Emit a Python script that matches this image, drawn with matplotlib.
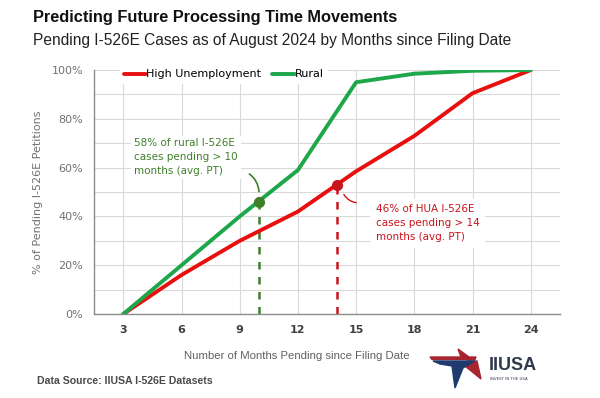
"""Pending I-526E cases by months since filing: HUA vs rural."""

import matplotlib
matplotlib.use("Agg")
import matplotlib.pyplot as plt
import matplotlib.patches as mpatches
from matplotlib.ticker import FuncFormatter, MultipleLocator

months = [3, 6, 9, 12, 15, 18, 21, 24]
high_unemployment = [0.0, 0.16, 0.30, 0.42, 0.585, 0.73, 0.905, 1.0]
rural = [0.0, 0.20, 0.40, 0.59, 0.95, 0.985, 0.997, 1.0]

rural_mark = (10, 0.46)
hua_mark = (14, 0.53)

RED = "#E8100F"
GREEN = "#1EA64B"
DKGREEN = "#3F7F2A"
DKRED = "#C8141C"
GRID = "#D9D9D9"
HEAD = "Liberation Sans"

fig = plt.figure(figsize=(6, 3.98), dpi=100)
ax = fig.add_axes([0.157, 0.211, 0.776, 0.613])

ax.plot(months, high_unemployment, color=RED, lw=2.8, label="High Unemployment",
        solid_capstyle="round", zorder=3)
ax.plot(months, rural, color=GREEN, lw=2.8, label="Rural",
        solid_capstyle="round", zorder=3)

# markers with dashed drops
ax.plot([rural_mark[0]] * 2, [0, rural_mark[1]], ls=(0, (3, 3)), color=DKGREEN, lw=1.8, zorder=2)
ax.plot([hua_mark[0]] * 2, [0, hua_mark[1]], ls=(0, (3, 3)), color=DKRED, lw=1.8, zorder=2)
ax.plot(*rural_mark, "o", color=DKGREEN, ms=7, zorder=4)
ax.plot(*hua_mark, "o", color=DKRED, ms=7, zorder=4)

ax.text(3.56, 0.72, "58% of rural I-526E\ncases pending > 10\nmonths (avg. PT)",
        color=DKGREEN, fontsize=7.5, va="top", ha="left", linespacing=1.5,
        bbox=dict(facecolor="white", edgecolor="none", pad=2), zorder=5)
ax.annotate("", xy=(10.0, 0.49), xytext=(9.38, 0.58),
            arrowprops=dict(arrowstyle="-", color=DKGREEN, lw=1.2,
                            connectionstyle="angle3,angleA=-30,angleB=90"), zorder=5)

ax.text(16.0, 0.45, "46% of HUA I-526E\ncases pending > 14\nmonths (avg. PT)",
        color=DKRED, fontsize=7.5, va="top", ha="left", linespacing=1.5,
        bbox=dict(facecolor="white", edgecolor="none", pad=4), zorder=5)
ax.annotate("", xy=(14.3, 0.50), xytext=(15.15, 0.455),
            arrowprops=dict(arrowstyle="-", color=DKRED, lw=1.0,
                            connectionstyle="arc3,rad=-0.3"), zorder=5)

ax.set_xlim(1.5, 25.5)
ax.set_ylim(0, 1.0)
ax.set_xticks(months)
ax.yaxis.set_major_locator(MultipleLocator(0.2))
ax.yaxis.set_minor_locator(MultipleLocator(0.1))
ax.yaxis.set_major_formatter(FuncFormatter(lambda v, _: f"{v:.0%}"))
ax.grid(True, which="both", axis="y", color=GRID, lw=0.8, zorder=0)
ax.grid(True, which="major", axis="x", color=GRID, lw=0.8, zorder=0)
ax.tick_params(which="both", length=0, pad=8)
ax.tick_params(axis="x", colors="#404040", labelsize=8)
ax.tick_params(axis="y", colors="#707070", labelsize=8)
for lbl in ax.get_xticklabels():
    lbl.set_fontweight("bold")
for side in ("top", "right"):
    ax.spines[side].set_visible(False)
for side in ("left", "bottom"):
    ax.spines[side].set_color("#8C8C8C")
    ax.spines[side].set_linewidth(1.0)

ax.set_ylabel("% of Pending I-526E Petitions", color="#707070", fontsize=8, labelpad=6)
ax.set_xlabel("Number of Months Pending since Filing Date", color="#606060",
              fontsize=8.2, family=HEAD)
ax.xaxis.set_label_coords(0.436, -0.15)

ax.legend(loc="upper left", bbox_to_anchor=(0.05, 1.03), ncol=2, frameon=True,
          facecolor="white", edgecolor="none", fontsize=8, handlelength=2.0,
          handletextpad=0.0, columnspacing=1.0, borderaxespad=0.2, framealpha=1)

fig.text(0.055, 0.955, "Predicting Future Processing Time Movements",
         fontsize=11.8, fontweight="bold", color="#111111", va="center", family=HEAD)
fig.text(0.055, 0.897, "Pending I-526E Cases as of August 2024 by Months since Filing Date",
         fontsize=11.2, color="#222222", va="center", family=HEAD)
fig.text(37 / 600, 1 - 381 / 398, "Data Source: IIUSA I-526E Datasets",
         fontsize=7.6, fontweight="bold", color="#4A4A4A", va="center", family=HEAD)


def px(x, y):
    return (x / 600, 1 - y / 398)


# logo
red_bar = [px(430, 357), px(476, 357), px(475, 359.5), px(432, 359.5)]
red_top = [px(458, 349), px(469, 357), px(461, 357)]
red_leg = [px(467, 361), px(477, 361), px(481, 379), px(465, 366)]
blue = [px(433, 361), px(475, 361), px(463, 368), px(455, 388), px(452, 366), px(440, 364)]
for poly, col in ((red_bar, "#A8252F"), (red_top, "#A8252F"),
                  (red_leg, "#A8252F"), (blue, "#1F3A6E")):
    fig.patches.append(mpatches.Polygon(poly, closed=True, color=col,
                                        transform=fig.transFigure))
fig.text(*px(489, 366), "IIUSA", fontsize=13, fontweight="bold", color="#2F3A4A",
         va="center", family=HEAD)
fig.text(*px(490, 379), "INVEST IN THE USA", fontsize=2.8, color="#2F3A4A", va="center")

fig.savefig("out.png", dpi=100, facecolor="white")
